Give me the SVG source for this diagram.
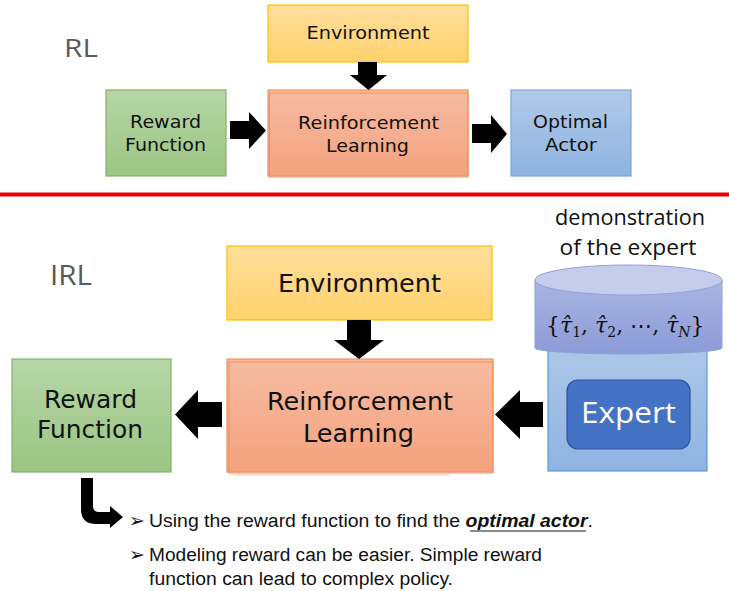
<svg xmlns="http://www.w3.org/2000/svg" width="729" height="591" viewBox="0 0 729 591">
<defs>
<linearGradient id="gY" x1="0" y1="0" x2="0" y2="1"><stop offset="0" stop-color="#ffdf9d"/><stop offset="1" stop-color="#ffd26c"/></linearGradient>
<linearGradient id="gG" x1="0" y1="0" x2="0" y2="1"><stop offset="0" stop-color="#b6d6a7"/><stop offset="1" stop-color="#9cc582"/></linearGradient>
<linearGradient id="gO" x1="0" y1="0" x2="0" y2="1"><stop offset="0" stop-color="#f6bca3"/><stop offset="1" stop-color="#f4a27d"/></linearGradient>
<linearGradient id="gB" x1="0" y1="0" x2="0" y2="1"><stop offset="0" stop-color="#b1cae9"/><stop offset="1" stop-color="#8fb3e1"/></linearGradient>
<linearGradient id="gCyl" x1="0" y1="0" x2="0" y2="1"><stop offset="0" stop-color="#aab5e3"/><stop offset="1" stop-color="#8b9bd7"/></linearGradient>
<style>
.box{stroke-width:1.2}
.lbl{font-family:"DejaVu Sans",sans-serif;fill:#111;text-anchor:middle}
.t1{font-size:18px}
.t2{font-size:24px}
.sec{font-family:"Open Sans","Liberation Sans",sans-serif;fill:#595959}
.note{font-family:"Liberation Sans",Arial,sans-serif;font-size:18px;fill:#111}
.blt{font-family:"DejaVu Sans",sans-serif;font-size:19px;fill:#111}
.arr{fill:#000}
.mth{font-family:"DejaVu Serif","Liberation Serif",serif;fill:#111}
</style>
</defs>
<rect width="729" height="591" fill="#ffffff"/>

<text id="label-rl" class="sec" x="64" y="57" font-size="26" textLength="34" lengthAdjust="spacingAndGlyphs">RL</text>
<text id="label-irl" class="sec" x="50" y="285" font-size="28" textLength="42" lengthAdjust="spacingAndGlyphs">IRL</text>

<g id="env-top">
<rect class="box" x="268" y="5" width="200" height="57" fill="url(#gY)" stroke="#ffc000"/>
<text class="lbl t1" x="368" y="39" textLength="123" lengthAdjust="spacingAndGlyphs">Environment</text>
</g>
<g id="rf-top">
<rect class="box" x="106" y="90" width="120" height="86" fill="url(#gG)" stroke="#82b366"/>
<text class="lbl t1" x="165.5" y="128" textLength="71" lengthAdjust="spacingAndGlyphs">Reward</text>
<text class="lbl t1" x="165.5" y="151" textLength="81" lengthAdjust="spacingAndGlyphs">Function</text>
</g>
<g id="rl-top">
<rect class="box" x="268" y="90" width="200" height="86" fill="url(#gO)" stroke="#f0925f"/>
<rect x="269.5" y="93" width="198.5" height="84" fill="none" stroke="#f0925f" stroke-width="1"/>
<text class="lbl t1" x="368.5" y="129" textLength="141" lengthAdjust="spacingAndGlyphs">Reinforcement</text>
<text class="lbl t1" x="367.5" y="152" textLength="83" lengthAdjust="spacingAndGlyphs">Learning</text>
</g>
<g id="oa-top">
<rect class="box" x="511" y="90" width="120" height="86" fill="url(#gB)" stroke="#7aa6da"/>
<text class="lbl t1" x="570.5" y="128" textLength="75" lengthAdjust="spacingAndGlyphs">Optimal</text>
<text class="lbl t1" x="571" y="151" textLength="52" lengthAdjust="spacingAndGlyphs">Actor</text>
</g>

<line id="divider" x1="0" y1="194.5" x2="729" y2="194.5" stroke="#ee0000" stroke-width="4"/>

<g id="env-bot">
<rect class="box" x="227" y="246" width="265" height="74" fill="url(#gY)" stroke="#ffc000"/>
<text class="lbl t2" x="359.5" y="292" textLength="163" lengthAdjust="spacingAndGlyphs">Environment</text>
</g>
<g id="rl-bot">
<rect class="box" x="227" y="359" width="266" height="113" fill="url(#gO)" stroke="#f0925f"/>
<rect x="229" y="362" width="264" height="111" fill="none" stroke="#f0925f" stroke-width="1"/>
<line x1="233" y1="475" x2="450" y2="475" stroke="#f5c0a5" stroke-width="1"/>
<text class="lbl t2" x="360" y="410" textLength="186" lengthAdjust="spacingAndGlyphs">Reinforcement</text>
<text class="lbl t2" x="358.5" y="442" textLength="111" lengthAdjust="spacingAndGlyphs">Learning</text>
</g>
<g id="rf-bot">
<rect class="box" x="12" y="359" width="159" height="113" fill="url(#gG)" stroke="#82b366"/>
<text class="lbl t2" x="90.5" y="408" textLength="93" lengthAdjust="spacingAndGlyphs">Reward</text>
<text class="lbl t2" x="90" y="438" textLength="106" lengthAdjust="spacingAndGlyphs">Function</text>
</g>

<g id="expert">
<rect x="548" y="330" width="159" height="141" fill="url(#gB)" stroke="#5b9bd5" stroke-width="1.2"/>
<rect x="567" y="380" width="123" height="69" rx="11" fill="#4472c4" stroke="#2f5597" stroke-width="1.2"/>
<text x="628.5" y="423" text-anchor="middle" font-family="'Open Sans','Liberation Sans',sans-serif" font-size="30" fill="#ffffff" textLength="95" lengthAdjust="spacingAndGlyphs">Expert</text>
</g>

<g id="demo">
<text x="630" y="225" text-anchor="middle" font-family="'Open Sans','Liberation Sans',sans-serif" font-size="21" fill="#111" textLength="150" lengthAdjust="spacingAndGlyphs">demonstration</text>
<text x="628" y="255" text-anchor="middle" font-family="'Open Sans','Liberation Sans',sans-serif" font-size="21" fill="#111" textLength="137" lengthAdjust="spacingAndGlyphs">of the expert</text>
<path d="M535,280 L535,348 A93.5,6 0 0 0 722,348 L722,280 Z" fill="url(#gCyl)" stroke="#8fa0d8" stroke-width="1"/>
<ellipse cx="628.5" cy="280" rx="93.5" ry="15" fill="#c6cdec" stroke="#8fa0d8" stroke-width="1"/>
<text class="mth" x="546" y="333" font-size="22">{<tspan font-style="italic">τ̂</tspan><tspan font-size="14" dy="4">1</tspan><tspan dy="-4">, </tspan><tspan font-style="italic">τ̂</tspan><tspan font-size="14" dy="4">2</tspan><tspan dy="-4">, ⋯, </tspan><tspan font-style="italic">τ̂</tspan><tspan font-size="14" font-style="italic" dy="4">N</tspan><tspan dy="-4">}</tspan></text>
</g>

<g id="connectors">
<polygon class="arr" points="358,62 377,62 377,75 387,75 368.5,90 350,75 358,75"/>
<polygon class="arr" points="230,121 249,121 249,112 266,130.5 249,149 249,139 230,139"/>
<polygon class="arr" points="472,124 491,124 491,115 507,134 491,153 491,143 472,143"/>
<polygon class="arr" points="347,320 371,320 371,340 384,340 359,359 334,340 347,340"/>
<polygon class="arr" points="222,402 198,402 198,390 175,414.5 198,439 198,427 222,427"/>
<polygon class="arr" points="543,402 520,402 520,390 495,414.5 520,439 520,427 543,427"/>
<path class="arr" d="M81,478 L93,478 L93,506 Q93,512 99,512 L110,512 L110,506 L123,517 L110,528 L110,524 L96,524 Q81,524 81,509 Z"/>
</g>

<g id="notes">
<text class="blt" x="129" y="527">➢</text>
<text class="note" x="149" y="527" textLength="444" lengthAdjust="spacingAndGlyphs">Using the reward function to find the <tspan font-weight="bold" font-style="italic">optimal actor</tspan>.</text>
<line x1="470" y1="531" x2="586" y2="531" stroke="#8a8a8a" stroke-width="2"/>
<text class="blt" x="129" y="561">➢</text>
<text class="note" x="149" y="561" textLength="393" lengthAdjust="spacingAndGlyphs">Modeling reward can be easier. Simple reward</text>
<text class="note" x="149" y="585" textLength="304" lengthAdjust="spacingAndGlyphs">function can lead to complex policy.</text>
</g>
</svg>
